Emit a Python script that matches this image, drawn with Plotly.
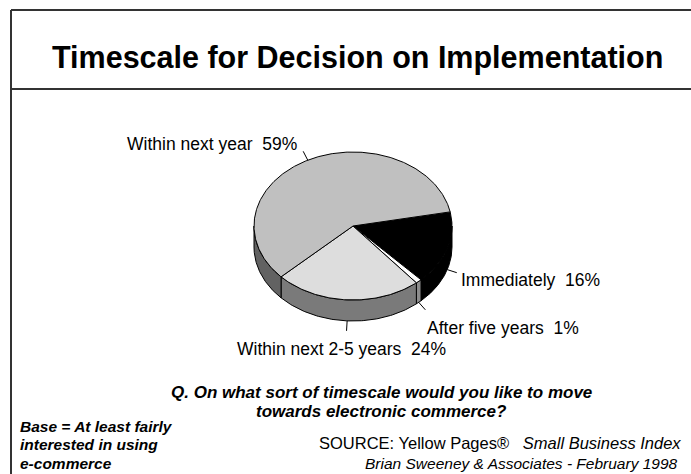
import numpy as np
import plotly.graph_objects as go

# Survey shares (percent), listed clockwise from the start angle
categories = ["Immediately", "After five years", "Within next 2-5 years", "Within next year"]
shares = [16, 1, 24, 59]
top_colors = ["#000000", "#FFFFFF", "#DDDDDD", "#C0C0C0"]
side_colors = ["#000000", "#8C8C8C", "#7A7A7A", "#626262"]

title_text = "Timescale for Decision on Implementation"
question_lines = ["Q. On what sort of timescale would you like to move",
                  "towards electronic commerce?"]
base_lines = ["Base = At least fairly", "interested in using", "e-commerce"]

W, H = 691, 474
FONT = "Arial, Liberation Sans, sans-serif"

# Pie geometry (pixel-space axes)
cx, cy = 353.0, 226.0
rx, ry = 99.0, 74.0
depth = 21.0
start_deg = 11.0

fig = go.Figure()


def edge(t_deg, drop=0.0):
    t = np.radians(t_deg)
    return cx + rx * np.cos(t), cy - ry * np.sin(t) + drop


total = float(sum(shares))
bounds = []
a = start_deg
for s in shares:
    b = a - 360.0 * s / total
    bounds.append((a, b))
    a = b

# Visible side walls (front half of the cylinder, angles in [-180, 0])
for (a0, a1), col in zip(bounds, side_colors):
    lo, hi = sorted((a0, a1))
    segs = []
    for shift in (0.0, -360.0, 360.0):
        l, h = lo + shift, hi + shift
        l2, h2 = max(l, -180.0), min(h, 0.0)
        if h2 > l2:
            segs.append((l2, h2))
    for l2, h2 in segs:
        ts = np.linspace(l2, h2, 80)
        xt, yt = edge(ts)
        xb, yb = edge(ts[::-1], depth)
        fig.add_trace(go.Scatter(
            x=np.concatenate([xt, xb, xt[:1]]), y=np.concatenate([yt, yb, yt[:1]]),
            mode="lines", fill="toself", fillcolor=col,
            line=dict(color="#000000", width=1), hoverinfo="skip", showlegend=False))

# Top faces
for (a0, a1), col, name, s in zip(bounds, top_colors, categories, shares):
    ts = np.linspace(a0, a1, max(int(abs(a0 - a1) * 1.5), 4))
    xs, ys = edge(ts)
    fig.add_trace(go.Scatter(
        x=np.concatenate([[cx], xs, [cx]]), y=np.concatenate([[cy], ys, [cy]]),
        mode="lines", fill="toself", fillcolor=col,
        line=dict(color="#000000", width=1), name=name,
        hovertemplate=f"{name}: {s}%<extra></extra>", showlegend=False))

# Leader lines and data labels
label_style = {
    # category: (xanchor, yanchor, dx, dy) relative to the leader end
    "Immediately": ("left", "middle", 2, 7),
    "After five years": ("left", "top", 0, 6),
    "Within next 2-5 years": ("center", "top", -5, 6),
    "Within next year": ("right", "middle", -4, -7),
}
annotations = []
for (a0, a1), name, s in zip(bounds, categories, shares):
    mid = (a0 + a1) / 2.0
    t = np.radians(mid)
    front = np.sin(t) < 0
    x0, y0 = edge(mid, depth if front else 0.0)
    ux, uy = np.cos(t), -np.sin(t)
    n = np.hypot(ux, uy)
    x1, y1 = x0 + 10 * ux / n, y0 + 10 * uy / n
    fig.add_trace(go.Scatter(x=[x0, x1], y=[y0, y1], mode="lines",
                             line=dict(color="#000000", width=1),
                             hoverinfo="skip", showlegend=False))
    xa, ya, dx, dy = label_style[name]
    annotations.append(dict(
        x=x1 + dx, y=y1 + dy, xref="x", yref="y", showarrow=False,
        text=f"{name}  {s}%", xanchor=xa, yanchor=ya,
        font=dict(family=FONT, size=17.5, color="#000000")))

# Title, question, base and source texts
annotations.append(dict(x=357, y=57, xref="x", yref="y", showarrow=False,
                        text=f"<b>{title_text}</b>", xanchor="center", yanchor="middle",
                        font=dict(family=FONT, size=30.5, color="#000000")))
for i, line in enumerate(question_lines):
    annotations.append(dict(x=381, y=392 + 19 * i, xref="x", yref="y", showarrow=False,
                            text=f"<b><i>{line}</i></b>", xanchor="center", yanchor="middle",
                            font=dict(family=FONT, size=17, color="#000000")))
for i, line in enumerate(base_lines):
    annotations.append(dict(x=18, y=426 + 18.5 * i, xref="x", yref="y", showarrow=False,
                            text=f"<b><i>{line}</i></b>", xanchor="left", yanchor="middle",
                            font=dict(family=FONT, size=15.5, color="#000000")))
annotations.append(dict(x=683, y=443, xref="x", yref="y", showarrow=False,
                        text="SOURCE: Yellow Pages®   <i>Small Business Index</i>",
                        xanchor="right", yanchor="middle",
                        font=dict(family=FONT, size=16.5, color="#000000")))
annotations.append(dict(x=680, y=463, xref="x", yref="y", showarrow=False,
                        text="<i>Brian Sweeney &amp; Associates - February 1998</i>",
                        xanchor="right", yanchor="middle",
                        font=dict(family=FONT, size=15.5, color="#000000")))

# Frame lines
shapes = [
    dict(type="line", xref="x", yref="y", x0=11, y0=10, x1=11, y1=H, line=dict(color="#333333", width=2)),
    dict(type="line", xref="x", yref="y", x0=11, y0=10, x1=W, y1=10, line=dict(color="#333333", width=2)),
    dict(type="line", xref="x", yref="y", x0=11, y0=89, x1=W, y1=89, line=dict(color="#333333", width=2)),
]

fig.update_layout(
    width=W, height=H, autosize=False,
    margin=dict(l=0, r=0, t=0, b=0),
    paper_bgcolor="#FFFFFF", plot_bgcolor="#FFFFFF",
    xaxis=dict(range=[0, W], visible=False, fixedrange=True),
    yaxis=dict(range=[H, 0], visible=False, fixedrange=True),
    annotations=annotations, shapes=shapes, showlegend=False,
)

fig.write_html("out.html")
